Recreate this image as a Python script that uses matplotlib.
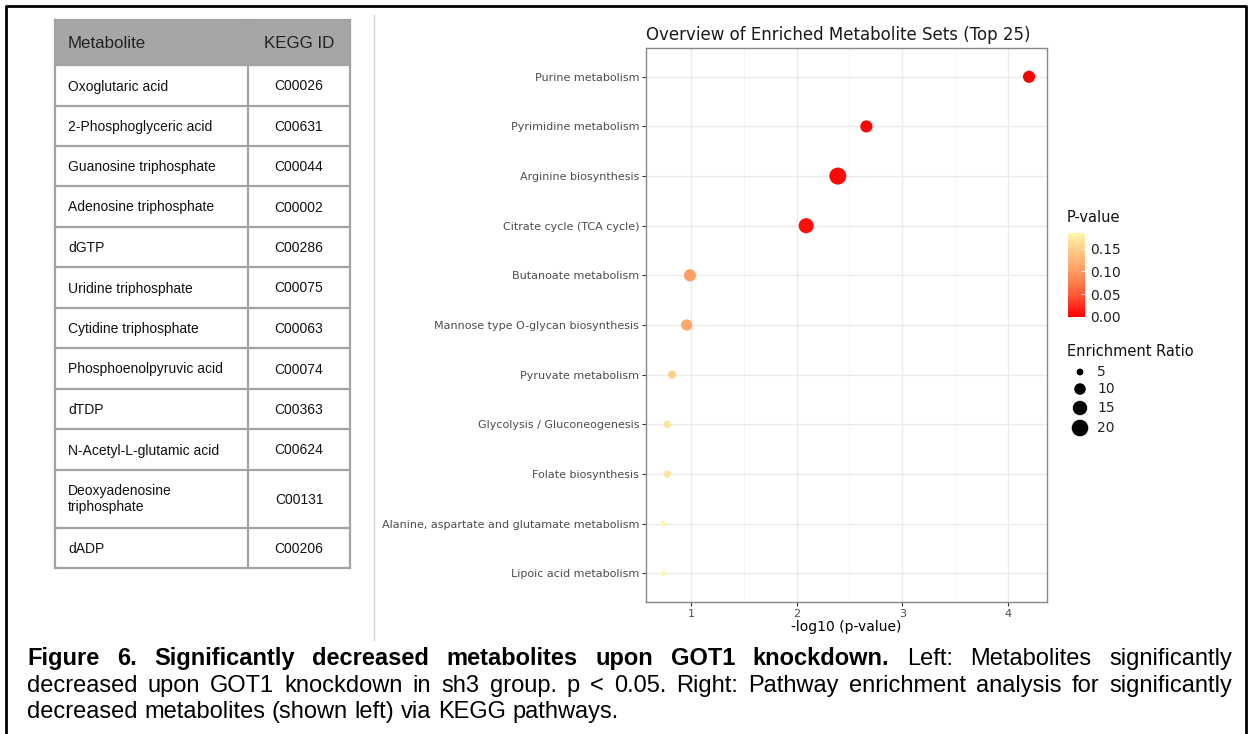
import numpy as np
import matplotlib
matplotlib.use("Agg")
import matplotlib.pyplot as plt
from matplotlib.colors import LinearSegmentedColormap, Normalize
from matplotlib.patches import Rectangle

# table data
metabolites = ["Oxoglutaric acid", "2-Phosphoglyceric acid", "Guanosine triphosphate",
               "Adenosine triphosphate", "dGTP", "Uridine triphosphate",
               "Cytidine triphosphate", "Phosphoenolpyruvic acid", "dTDP",
               "N-Acetyl-L-glutamic acid", "Deoxyadenosine\ntriphosphate", "dADP"]
kegg_ids = ["C00026", "C00631", "C00044", "C00002", "C00286", "C00075",
            "C00063", "C00074", "C00363", "C00624", "C00131", "C00206"]

# enrichment data (top to bottom)
pathways = ["Purine metabolism", "Pyrimidine metabolism", "Arginine biosynthesis",
            "Citrate cycle (TCA cycle)", "Butanoate metabolism",
            "Mannose type O-glycan biosynthesis", "Pyruvate metabolism",
            "Glycolysis / Gluconeogenesis", "Folate biosynthesis",
            "Alanine, aspartate and glutamate metabolism", "Lipoic acid metabolism"]
neg_log_p = [4.20, 2.66, 2.39, 2.09, 0.99, 0.96, 0.82, 0.775, 0.775, 0.735, 0.735]
enrich_ratio = [11.0, 11.0, 21.0, 16.5, 11.0, 9.6, 6.2, 5.4, 5.4, 4.35, 4.35]
size_breaks = [5, 10, 15, 20]
cbar_ticks = [0.00, 0.05, 0.10, 0.15]

caption = [
    [("Figure", True), ("6.", True), ("Significantly", True), ("decreased", True),
     ("metabolites", True), ("upon", True), ("GOT1", True), ("knockdown.", True),
     ("Left:", False), ("Metabolites", False), ("significantly", False)],
    [(w, False) for w in "decreased upon GOT1 knockdown in sh3 group. p < 0.05. Right: "
     "Pathway enrichment analysis for significantly".split()],
    [(w, False) for w in "decreased metabolites (shown left) via KEGG pathways.".split()],
]

W, H = 1252, 734
fig = plt.figure(figsize=(W / 100, H / 100), dpi=100)
fig.patch.set_facecolor("white")

# background axes in pixel coords
bg = fig.add_axes([0, 0, 1, 1])
bg.set_xlim(0, W)
bg.set_ylim(H, 0)
bg.axis("off")


def px_size(v):
    d = 3.5 + 13.5 * np.sqrt(np.clip((np.asarray(v) - 4) / 17.0, 0, 1))
    return (d * 0.72) ** 2


# outer frame + separator
bg.plot([6, 6, 1246, 1246], [H, 6, 6, H], color="black", lw=2, solid_capstyle="butt")
bg.plot([374, 374], [15, 640], color="#d6d6d6", lw=1)

# ---- table ----
tx0, tx1, tx2 = 55, 248, 350
rows = [20, 65, 106, 146, 186, 227, 267, 308, 348, 389, 429, 470, 528, 568]
bg.add_patch(Rectangle((tx0, rows[0]), tx2 - tx0, rows[1] - rows[0],
                       facecolor="#a6a6a6", edgecolor="none"))
lc = "#a3a3a3"
for y in rows:
    bg.plot([tx0, tx2], [y, y], color=lc, lw=1.6)
for x in (tx0, tx1, tx2):
    bg.plot([x, x], [rows[0], rows[-1]], color=lc, lw=1.6)
tfont = "Liberation Sans"
hy = (rows[0] + rows[1]) / 2 + 6
bg.text(68, hy, "Metabolite", family=tfont, fontsize=12.2, color="#222222",
        va="baseline")
bg.text((tx1 + tx2) / 2, hy, "KEGG ID", family=tfont, fontsize=12.2, color="#222222",
        va="baseline", ha="center")
for i, (m, k) in enumerate(zip(metabolites, kegg_ids)):
    cy = (rows[i + 1] + rows[i + 2]) / 2
    if "\n" in m:
        bg.text(68, cy, m, family=tfont, fontsize=10, color="#111111", va="center",
                linespacing=1.25)
    else:
        bg.text(68, cy + 5, m, family=tfont, fontsize=10, color="#111111", va="baseline")
    bg.text((tx1 + tx2) / 2, cy + 5, k, family=tfont, fontsize=10, color="#111111",
            va="baseline", ha="center")

# ---- dot plot ----
cmap = LinearSegmentedColormap.from_list(
    "pv", [(0, "#ff0000"), (0.27, "#ff5a36"), (0.55, "#ff9e62"),
           (0.82, "#ffcf8c"), (1, "#fff7ae")])
pvals = 10 ** (-np.array(neg_log_p))
norm = Normalize(0, pvals.max())

ax = fig.add_axes([646 / W, (H - 602) / H, 401 / W, 554 / H])
yy = np.arange(len(pathways))
ax.set_axisbelow(True)
ax.scatter(neg_log_p, yy, s=px_size(enrich_ratio), c=pvals, cmap=cmap, norm=norm,
           edgecolors="none", zorder=3)
ax.set_xlim(0.574, 4.37)
ax.set_ylim(len(pathways) - 0.42, -0.58)
ax.set_xticks([1, 2, 3, 4])
ax.set_xticks([1.5, 2.5, 3.5], minor=True)
ax.set_yticks(yy)
ax.set_yticklabels(pathways)
ax.tick_params(axis="both", labelsize=8, labelcolor="#4d4d4d", color="#333333",
               length=3, width=0.8, pad=2)
ax.tick_params(axis="x", which="minor", length=0)
ax.grid(which="major", color="#ebebeb", lw=1)
ax.grid(which="minor", axis="x", color="#f4f4f4", lw=0.6)
for s in ax.spines.values():
    s.set_color("#888888")
    s.set_linewidth(1)
ax.set_xlabel("-log10 (p-value)", fontsize=10, labelpad=1)
ax.set_title("Overview of Enriched Metabolite Sets (Top 25)", loc="left", fontsize=12,
             color="#1a1a1a", pad=6)

# colorbar
cax = fig.add_axes([1068 / W, (H - 317) / H, 17 / W, 84 / H])
sm = plt.cm.ScalarMappable(norm=norm, cmap=cmap)
cb = fig.colorbar(sm, cax=cax, ticks=cbar_ticks)
cb.outline.set_visible(False)
cb.ax.set_yticklabels([f"{t:.2f}" for t in cbar_ticks])
cb.ax.tick_params(labelsize=10, color="white", length=3, width=0.6, pad=4,
                  labelcolor="#222222", direction="in")
bg.text(1067, 218, "P-value", fontsize=10.5, color="#111111", va="center")

# size legend
bg.text(1067, 351, "Enrichment Ratio", fontsize=10.5, color="#111111", va="center")
leg_y = [372, 389, 408, 428]
bg.scatter([1080] * len(size_breaks), leg_y, s=px_size(size_breaks), color="black",
           edgecolors="none")
for v, y in zip(size_breaks, leg_y):
    bg.text(1097, y, str(v), fontsize=10, color="#222222", va="center")

# ---- caption (justified) ----
r = fig.canvas.get_renderer()
cx0, cx1 = 27, 1232
line_y = [665, 692, 718]
cfs = 17
for li, words in enumerate(caption):
    texts = [bg.text(0, line_y[li], w, family=tfont, fontsize=cfs,
                     fontweight="bold" if b else "normal", va="baseline",
                     color="black")
             for w, b in words]
    widths = [t.get_window_extent(r).width for t in texts]
    if li < 2:
        gap = (cx1 - cx0 - sum(widths)) / (len(texts) - 1)
    else:
        sp = bg.text(0, 0, "a a", family=tfont, fontsize=cfs)
        sp2 = bg.text(0, 0, "aa", family=tfont, fontsize=cfs)
        gap = sp.get_window_extent(r).width - sp2.get_window_extent(r).width
        sp.remove()
        sp2.remove()
    x = cx0
    for t, w in zip(texts, widths):
        t.set_x(x)
        x += w + gap

fig.savefig("out.png", dpi=100)
